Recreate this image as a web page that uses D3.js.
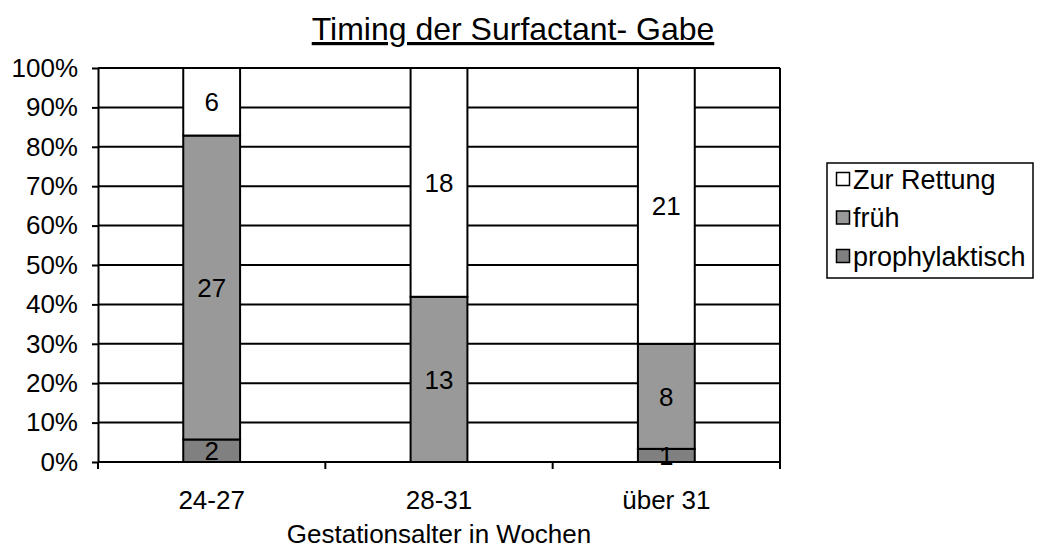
<!DOCTYPE html>
<html><head><meta charset="utf-8">
<script src="https://cdn.jsdelivr.net/npm/d3@7"></script>
<style>body{margin:0;background:#fff}svg text{font-family:"Liberation Sans",Arial,sans-serif;fill:#000}</style>
</head><body><svg id="c" width="1039" height="549"></svg>
<script>
const categories = ["24-27", "28-31", "über 31"];
const seriesNames = ["prophylaktisch", "früh", "Zur Rettung"];
const prophylaktisch = [2, 0, 1];
const frueh = [27, 13, 8];
const zurRettung = [6, 18, 21];
const colors = ["#808080", "#999999", "#ffffff"];
const yTicks = [0, 0.1, 0.2, 0.3, 0.4, 0.5, 0.6, 0.7, 0.8, 0.9, 1.0];

const svg = d3.select("#c");
const L = 98, R = 780, T = 68, B = 462;
const FS = 26;
const x = d3.scaleBand().domain(categories).range([L, R]).paddingInner(0.75).paddingOuter(0.375);
const y = d3.scaleLinear().domain([0, 1]).range([B, T]);

const rows = categories.map((c, i) => ({cat: c, prophylaktisch: prophylaktisch[i], "früh": frueh[i], "Zur Rettung": zurRettung[i]}));
const stacked = d3.stack().keys(seriesNames).offset(d3.stackOffsetExpand)(rows);

// gridlines
svg.append("g").selectAll("line").data(yTicks.slice(1)).join("line")
  .attr("x1", L).attr("x2", R).attr("y1", d => y(d)).attr("y2", d => y(d))
  .attr("stroke", "#000").attr("stroke-width", 2);
svg.append("line").attr("x1", R).attr("x2", R).attr("y1", T).attr("y2", B).attr("stroke", "#000").attr("stroke-width", 2);

// bars
stacked.forEach((s, si) => {
  const g = svg.append("g");
  s.forEach((d) => {
    const h = y(d[0]) - y(d[1]);
    if (h <= 0) return;
    g.append("rect").attr("x", x(d.data.cat)).attr("y", y(d[1]))
      .attr("width", x.bandwidth()).attr("height", h)
      .attr("fill", colors[si]).attr("stroke", "#000").attr("stroke-width", 2);
  });
});
// labels
stacked.forEach((s, si) => {
  s.forEach((d) => {
    const v = d.data[seriesNames[si]];
    if (!v) return;
    svg.append("text").attr("x", x(d.data.cat) + x.bandwidth() / 2)
      .attr("y", (y(d[0]) + y(d[1])) / 2).attr("dy", "0.36em")
      .attr("text-anchor", "middle").style("font-size", FS + "px").text(v);
  });
});

// y axis
const ya = svg.append("g").attr("transform", `translate(${L},0)`)
  .call(d3.axisLeft(y).tickValues(yTicks).tickFormat(d3.format(".0%")).tickSize(6).tickSizeOuter(0));
ya.select(".domain").attr("stroke-width", 2);
ya.selectAll(".tick line").attr("stroke-width", 2);
ya.selectAll("text").style("font-size", FS + "px").style("font-family", "Liberation Sans, Arial, sans-serif").attr("x", -20);

// x axis
svg.append("line").attr("x1", L).attr("x2", R).attr("y1", B).attr("y2", B).attr("stroke", "#000").attr("stroke-width", 2);
const bounds = d3.range(categories.length + 1).map(i => L + i * (R - L) / categories.length);
svg.append("g").selectAll("line").data(bounds).join("line")
  .attr("x1", d => d).attr("x2", d => d).attr("y1", B).attr("y2", B + 7).attr("stroke", "#000").attr("stroke-width", 2);
svg.append("g").selectAll("text").data(categories).join("text")
  .attr("x", d => x(d) + x.bandwidth() / 2).attr("y", 509).attr("text-anchor", "middle")
  .style("font-size", FS + "px").text(d => d);
svg.append("text").attr("x", 439).attr("y", 543).attr("text-anchor", "middle").style("font-size", FS + "px").text("Gestationsalter in Wochen");

// title
svg.append("text").attr("x", 513).attr("y", 40).attr("text-anchor", "middle")
  .style("font-size", "32px").attr("text-decoration", "underline").text("Timing der Surfactant- Gabe");

// legend
const lg = svg.append("g");
lg.append("rect").attr("x", 827).attr("y", 163).attr("width", 206).attr("height", 115)
  .attr("fill", "#fff").attr("stroke", "#000").attr("stroke-width", 1.5);
const legendItems = ["Zur Rettung", "früh", "prophylaktisch"];
const legendColors = [colors[2], colors[1], colors[0]];
legendItems.forEach((n, i) => {
  const cy = 179 + i * 38.5;
  lg.append("rect").attr("x", 836.5).attr("y", cy - 6.5).attr("width", 13).attr("height", 13)
    .attr("fill", legendColors[i]).attr("stroke", "#000").attr("stroke-width", 1.5);
  lg.append("text").attr("x", 853).attr("y", cy).attr("dy", "0.36em").style("font-size", "27px").text(n);
});
</script></body></html>
